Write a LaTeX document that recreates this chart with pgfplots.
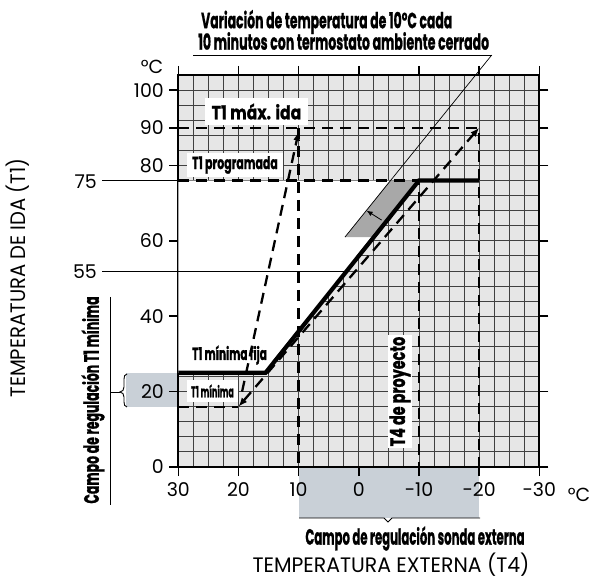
\documentclass[border=0pt]{standalone}
\usepackage{pgfplots}
\pgfplotsset{compat=1.18}
\usepackage{fontspec}
\setmainfont{Poppins}
\newfontfamily\cond[BoldFeatures={FakeBold=1.2}]{Poppins}
\usetikzlibrary{arrows.meta}

\definecolor{gridbg}{HTML}{E6E6E6}
\definecolor{bluegray}{HTML}{C9D0D7}
\definecolor{wedge}{HTML}{A8A8A8}

% squeeze a label to a given width (bp), keep its height
\newcommand\fitw[2]{\sbox0{#2}\pgfmathsetmacro\fs{#1/\the\wd0}\scalebox{\fs}[1]{\usebox0}}
\newcommand\bl[1]{\cond\bfseries\fontsize{#1}{#1}\selectfont}
\newcommand\rg[1]{\fontsize{#1}{#1}\selectfont}

\tikzset{dsh/.style={line width=2.3bp, dash pattern=on 11bp off 7bp, black}}

\begin{document}
\begin{tikzpicture}
\begin{axis}[
  at={(178.3bp,117bp)}, anchor=south west,
  scale only axis, width=361bp, height=392bp,
  x dir=reverse, xmin=-30, xmax=30, ymin=0, ymax=104,
  set layers, clip=false,
  axis background/.style={fill=gridbg},
  axis line style={line width=2.2bp, black},
  xtick={30,20,10,0,-10,-20,-30}, xticklabels={30,20,10,0,-10,-20,-30},
  ytick={0,20,40,60,80,90,100}, yticklabels={0,20,40,60,80,90,100},
  minor xtick={-30,-27.5,...,30}, minor ytick={0,4,...,104},
  xminorgrids, yminorgrids, xmajorgrids=false, ymajorgrids=false,
  minor grid style={black!75, line width=0.9bp},
  tick align=outside, major tick length=9bp, minor tick length=0pt,
  major tick style={line width=1.6bp, black},
  ticklabel style={font=\rg{19}},
  xticklabel style={yshift=-3bp},
  yticklabel style={xshift=-2bp},
]
% regulation ranges, behind the tick labels
\begin{pgfonlayer}{axis background}
\fill[bluegray] (axis cs:38.7,16) rectangle (axis cs:30,25);
\fill[bluegray] (axis cs:10,-13.5) rectangle (axis cs:-20,0);
\end{pgfonlayer}

% white area above the curve, no grid
\addplot[draw=none, fill=white] coordinates {(30,25) (15.5,25) (-10,76) (30,76)} -- cycle;
% shaded band of the 10 C / 10 min variation
\addplot[draw=none, fill=wedge] coordinates {(2.3,61) (-5.2,76) (-10,76) (-2.5,61)} -- cycle;

% limits
\addplot[dsh] coordinates {(30,90) (-20,90) (-20,0)};
\addplot[dsh] coordinates {(10,90) (10,0)};
\addplot[dsh] coordinates {(30,76) (-10,76) (-10,0)};
\addplot[dsh] coordinates {(30,16) (20,16)};
\addplot[dsh, -{Latex[length=9bp,width=7bp]}] coordinates {(19.4,20) (10,89)};
\addplot[dsh, {Latex[length=9bp,width=7bp]}-{Latex[length=9bp,width=7bp]}] coordinates {(20,16) (-20,90)};

% heating curve
\addplot[line width=4.2bp, black] coordinates {(30,25) (15.5,25) (-10,76) (-20,76)};
% 55 line and variation pointer
\addplot[line width=0.9bp, black] coordinates {(30,52) (2,52)};
\addplot[line width=0.7bp, black] coordinates {(2.3,61) (-22.1,109.3)};
\draw[line width=0.8bp, -{Latex[length=6bp,width=5bp]}] (axis cs:-3.8,65.5) -- (axis cs:-1.3,68);
\end{axis}

% pixel frame: origin top left, y down
\begin{scope}[x=1bp,y=-1bp,yshift=584bp]
% labels inside the plot
\node[fill=white, inner sep=0pt, minimum width=103bp, minimum height=27bp] at (256.5,111.5)
  {\fitw{90}{\bl{19}T1 máx. ida}};
\node[fill=white, inner sep=0pt, minimum width=96bp, minimum height=24bp] at (235,165)
  {\fitw{86}{\bl{17.5}T1 programada}};
\node[inner sep=0pt] at (229.5,355) {\fitw{75}{\bl{17.5}T1 mínima fija}};
\node[fill=white, inner sep=0pt, minimum width=51bp, minimum height=22bp] at (212.5,391)
  {\fitw{43}{\bl{15.5}T1 mínima}};
\node[fill=white, inner sep=0pt, rotate=90, minimum width=113bp, minimum height=24bp] at (400,391.5)
  {\fitw{110}{\bl{21}T4 de proyecto}};

% 75 / 55 reference lines
\draw[line width=0.9bp] (102,180.5) -- (178,180.5);
\draw[line width=0.9bp] (102,271) -- (178,271);
\node[anchor=east, inner sep=0pt] at (97,182) {\rg{19}75};
\node[anchor=east, inner sep=0pt] at (97,272) {\rg{19}55};
\node at (152,67) {\rg{19}°C};
\node at (579,495) {\rg{19}°C};

% top note
\node[anchor=west, inner sep=0pt] at (201,22) {\fitw{252}{\bl{22}Variación de temperatura de 10ºC cada}};
\node[anchor=west, inner sep=0pt] at (198,41) {\fitw{292}{\bl{22}10 minutos con termostato ambiente cerrado}};
\draw[line width=0.7bp] (193,55) -- (492,55);

% left: campo de regulacion T1 minima
\draw[line width=0.9bp] (110,297) -- (110,505);
\draw[line width=0.9bp] (110,392) -- (120,392);
\draw[line width=0.9bp] (127,374) to[out=180,in=90] (124,379) -- (124,387)
  to[out=-90,in=0] (120,392) to[out=0,in=90] (124,397) -- (124,402) to[out=-90,in=180] (127,407);
\node[rotate=90, inner sep=0pt] at (93,400) {\fitw{208}{\bl{21}Campo de regulación T1 mínima}};

% bottom: campo de regulacion sonda externa
\draw[line width=0.9bp] (299,518) -- (384,518) -- (388,522) -- (392,518) -- (480,518);
\node[inner sep=0pt] at (415,538.5) {\fitw{220}{\bl{22}Campo de regulación sonda externa}};

% axis titles
\node[inner sep=0pt] at (391,565) {\fitw{278}{\rg{21}TEMPERATURA EXTERNA (T4)}};
\node[rotate=90, inner sep=0pt] at (17.5,278) {\fitw{240}{\rg{21}TEMPERATURA DE IDA (T1)}};
\end{scope}

\pgfresetboundingbox
\useasboundingbox (0,0) rectangle (596bp,584bp);
\end{tikzpicture}
\end{document}
